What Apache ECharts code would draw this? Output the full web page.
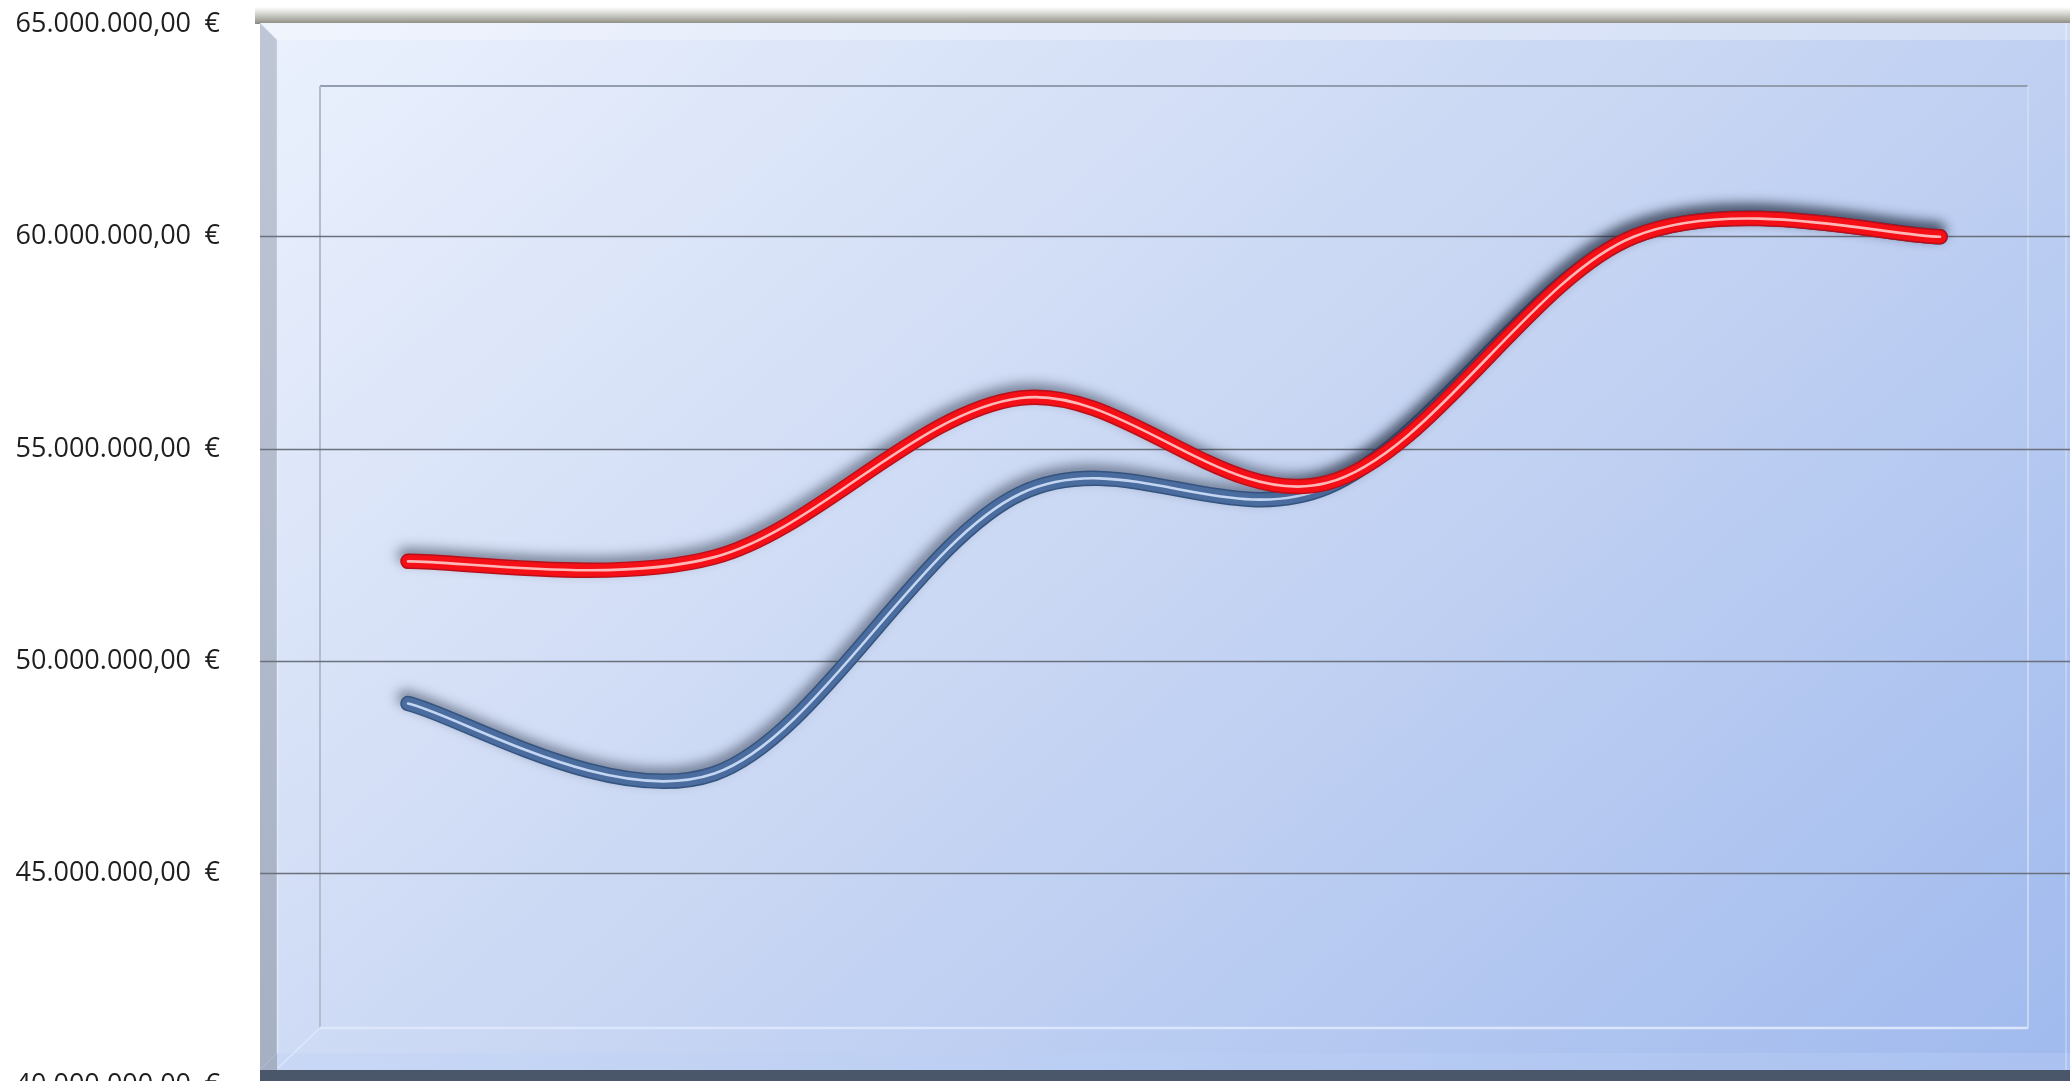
<!DOCTYPE html>
<html>
<head>
<meta charset="utf-8">
<script src="https://cdn.jsdelivr.net/npm/echarts@6/dist/echarts.min.js"></script>
<style>
  html, body { margin: 0; padding: 0; background: #ffffff; }
  #chart { width: 2070px; height: 1081px; }
</style>
</head>
<body>
<div id="chart"></div>
<script>
// ---- data ----
const categories = ['1', '2', '3', '4', '5', '6'];
const blueValues = [49000000, 47350000, 53950000, 54100000, 60000000, 60000000];
const redValues  = [52350000, 52450000, 56200000, 54200000, 60000000, 60000000];
const yTicks = [40000000, 45000000, 50000000, 55000000, 60000000, 65000000];

function fmtEuro(v) {
  const s = Math.round(v).toString();
  let out = '';
  for (let i = 0; i < s.length; i++) {
    if (i > 0 && (s.length - i) % 3 === 0) out += '.';
    out += s[i];
  }
  return out + ',00\u2002€';
}

// Excel-like smoothed curve (Catmull-Rom style Bezier) through pixel points
function smoothPath(pts) {
  let d = 'M' + pts[0][0] + ',' + pts[0][1];
  const n = pts.length;
  for (let i = 0; i < n - 1; i++) {
    const p0 = pts[Math.max(i - 1, 0)], p1 = pts[i], p2 = pts[i + 1], p3 = pts[Math.min(i + 2, n - 1)];
    const c1x = p1[0] + (p2[0] - p0[0]) / 6, c1y = p1[1] + (p2[1] - p0[1]) / 6;
    const c2x = p2[0] - (p3[0] - p1[0]) / 6, c2y = p2[1] - (p3[1] - p1[1]) / 6;
    d += ' C' + c1x + ',' + c1y + ' ' + c2x + ',' + c2y + ' ' + p2[0] + ',' + p2[1];
  }
  return d;
}

function curveSeries(name, values, edge, main, stripe) {
  return {
    type: 'custom',
    name: name,
    coordinateSystem: 'cartesian2d',
    silent: true,
    data: values.map((v, i) => [i, v]),
    encode: { x: 0, y: 1 },
    renderItem: function (params, api) {
      if (params.dataIndex !== 0) return null;
      const pts = values.map((v, i) => api.coord([i, v]));
      const d = smoothPath(pts);
      return {
        type: 'group',
        children: [
          { type: 'path', shape: { pathData: d },
            style: { fill: 'none', stroke: edge, lineWidth: 15.5, lineCap: 'round', lineJoin: 'round',
                     shadowBlur: 12, shadowColor: 'rgba(30,40,60,0.5)', shadowOffsetX: -3, shadowOffsetY: -6 } },
          { type: 'path', shape: { pathData: d },
            style: { fill: 'none', stroke: main, lineWidth: 12.5, lineCap: 'round', lineJoin: 'round' } },
          { type: 'path', shape: { pathData: d },
            style: { fill: 'none', stroke: stripe, lineWidth: 2.6, lineCap: 'round', lineJoin: 'round' } }
        ]
      };
    }
  };
}

const chart = echarts.init(document.getElementById('chart'), null, { renderer: 'canvas' });

const wallGradient = {
  type: 'linear', x: 0, y: 0, x2: 0.716, y2: 1.426,
  colorStops: [
    { offset: 0, color: '#ebf1fd' },
    { offset: 0.5, color: '#c8d6f3' },
    { offset: 1, color: '#a0baee' }
  ]
};

const gridColor = '#6a707c';

chart.setOption({
  animation: false,
  backgroundColor: '#ffffff',
  grid: { left: 260, right: 0, top: 24.5, height: 1061, containLabel: false, outerBoundsMode: 'none' },
  xAxis: {
    type: 'value', min: -0.483, max: 5.424, show: false,
    splitLine: { show: false }
  },
  yAxis: {
    type: 'value', min: yTicks[0], max: yTicks[yTicks.length - 1], interval: 5000000,
    axisLine: { show: false }, axisTick: { show: false },
    axisLabel: {
      formatter: fmtEuro, fontFamily: 'Open Sans', fontSize: 27, color: '#1e1e1e', margin: 40
    },
    splitLine: {
      show: true,
      lineStyle: { color: [gridColor, gridColor, gridColor, gridColor, gridColor, 'rgba(0,0,0,0)'], width: 1.3 }
    }
  },
  graphic: [
    { type: 'rect', z: -30, silent: true, shape: { x: 255, y: 7, width: 1815, height: 17 },
      style: { fill: { type: 'linear', x: 0, y: 0, x2: 0, y2: 1, colorStops: [
        { offset: 0, color: 'rgba(150,150,140,0)' }, { offset: 1, color: 'rgba(130,130,118,0.95)' }] } } },
    { type: 'rect', z: -29, silent: true, shape: { x: 260, y: 23, width: 1810, height: 1047 },
      style: { fill: wallGradient } },
    { type: 'polygon', z: -28, silent: true, shape: { points: [[260, 23], [2070, 23], [2070, 40], [277, 40]] },
      style: { fill: 'rgba(255,255,255,0.28)' } },
    { type: 'polygon', z: -28, silent: true, shape: { points: [[260, 23], [277, 40], [277, 1053], [260, 1070]] },
      style: { fill: { type: 'linear', x: 0, y: 0, x2: 0, y2: 1, colorStops: [
        { offset: 0, color: '#bfc7d6' }, { offset: 1, color: '#a6b0c3' }] } } },
    { type: 'line', z: -27, silent: true, shape: { x1: 277.5, y1: 40, x2: 277.5, y2: 1053 },
      style: { stroke: 'rgba(230,236,248,0.8)', lineWidth: 1.5 } },
    { type: 'polygon', z: -28, silent: true, shape: { points: [[277, 1053], [2070, 1053], [2070, 1070], [260, 1070]] },
      style: { fill: 'rgba(190,210,245,0.35)' } },
    { type: 'line', z: -27, silent: true, shape: { x1: 2066, y1: 23, x2: 2066, y2: 1070 },
      style: { stroke: 'rgba(255,255,255,0.35)', lineWidth: 1.5 } },
    // inner wall rectangle
    { type: 'line', z: -26, silent: true, shape: { x1: 320, y1: 86, x2: 2028, y2: 86 },
      style: { stroke: '#939db0', lineWidth: 2 } },
    { type: 'line', z: -26, silent: true, shape: { x1: 320, y1: 86, x2: 320, y2: 1028 },
      style: { stroke: '#b3bccb', lineWidth: 2 } },
    { type: 'line', z: -26, silent: true, shape: { x1: 320, y1: 1028, x2: 2028, y2: 1028 },
      style: { stroke: 'rgba(220,232,252,0.95)', lineWidth: 2.5 } },
    { type: 'line', z: -26, silent: true, shape: { x1: 2028, y1: 86, x2: 2028, y2: 1028 },
      style: { stroke: 'rgba(205,218,242,0.9)', lineWidth: 2 } },
    { type: 'line', z: -26, silent: true, shape: { x1: 321, y1: 1027, x2: 278, y2: 1068 },
      style: { stroke: 'rgba(225,235,252,0.8)', lineWidth: 1.5 } },
    // floor
    { type: 'rect', z: -25, silent: true, shape: { x: 260, y: 1070, width: 1810, height: 11 },
      style: { fill: '#4a576b' } },
    { type: 'polygon', z: -25, silent: true, shape: { points: [[260, 1070], [277, 1053], [277, 1070]] },
      style: { fill: '#a6b0c3' } }
  ],
  series: [
    curveSeries('Blue', blueValues, '#34547f', '#4a6c9e', '#c4d6f2'),
    curveSeries('Red', redValues, '#b8101a', '#f41016', '#ffb8b8')
  ]
});
</script>
</body>
</html>
